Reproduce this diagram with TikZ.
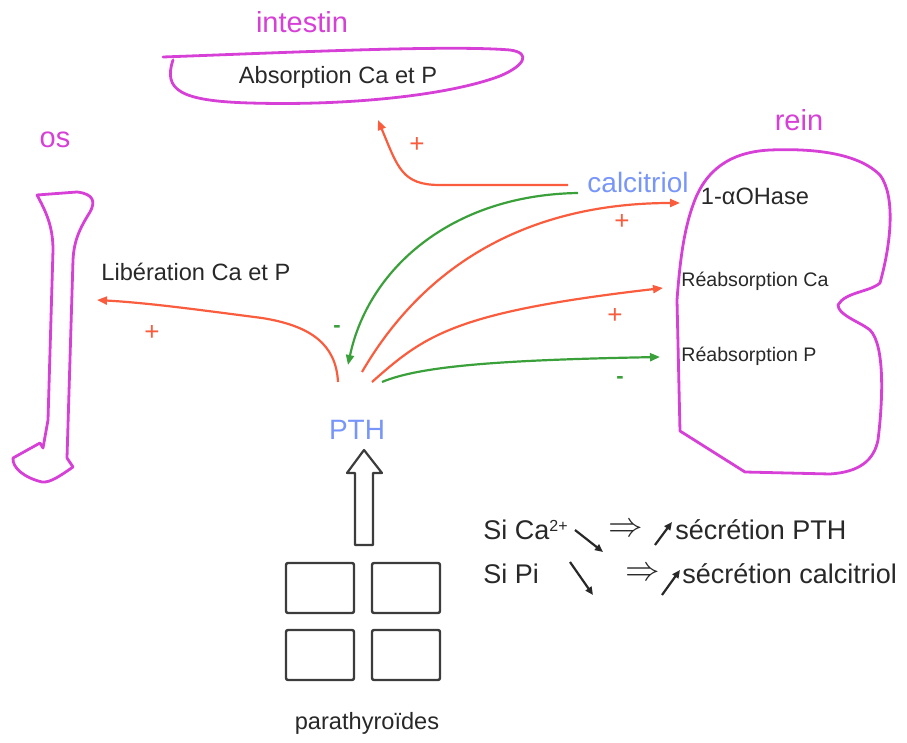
\documentclass[tikz,border=0pt]{standalone}
\usepackage{fontspec}
\setmainfont{Liberation Sans}
\usetikzlibrary{arrows.meta,positioning}
\definecolor{organc}{RGB}{214,64,214}
\definecolor{plusc}{RGB}{250,92,62}
\definecolor{minusc}{RGB}{58,160,58}
\definecolor{hormc}{RGB}{120,150,250}
\definecolor{textc}{RGB}{40,40,40}
\definecolor{boxc}{RGB}{60,60,60}

\begin{document}
\begin{tikzpicture}[x=0.5pt, y=-0.5pt,
            organ/.style={draw=organc, line width=1.4pt, line join=round, line cap=round},
            organlbl/.style={text=organc, inner sep=0pt, font=\fontsize{14.5}{16}\selectfont},
            hormone/.style={text=hormc, inner sep=0pt, font=\fontsize{14}{16}\selectfont},
            effect/.style={text=textc, inner sep=0pt, font=\fontsize{11.8}{13}\selectfont},
            small/.style={text=textc, inner sep=0pt, font=\fontsize{9.8}{11}\selectfont},
            rule/.style={text=textc, inner sep=0pt, anchor=west, font=\fontsize{13.5}{15}\selectfont},
            stim/.style={draw=plusc, line width=1.1pt, -{Triangle[length=5pt, width=4pt]}},
            inhib/.style={draw=minusc, line width=1.1pt, -{Triangle[length=5pt, width=4pt]}},
            plussign/.style={text=plusc, inner sep=0pt, font=\fontsize{13}{14}\selectfont},
            minussign/.style={text=minusc, inner sep=0pt, font=\bfseries\fontsize{11}{12}\selectfont},
            gland/.style={draw=boxc, line width=1.2pt, rounded corners=1pt, minimum width=34pt, minimum height=25pt, inner sep=0pt},
            trend/.style={draw=textc, line width=1.1pt, -{Triangle[length=4pt, width=3.5pt]}},
            implies/.style={text=textc, inner sep=0pt, anchor=west, font=\fontsize{16}{16}\selectfont}
        ]
            \useasboundingbox (0,0) rectangle (907,743);

            % organs
            \node[organlbl] (intestin) at (302,22) {intestin};
            \node[effect] (absorb) at (338,77) {Absorption Ca et P};
            \draw[organ] (163,57) .. controls (300,52) and (450,45) .. (510,50)
                .. controls (532,53) and (524,66) .. (500,76)
                .. controls (450,95) and (350,106) .. (250,103)
                .. controls (180,101) and (163,90) .. (173,60);

            \node[organlbl] (os) at (55,140) {os};
            \draw[organ] (37,195) -- (77,192) .. controls (95,194) and (95,203) .. (90,212)
                .. controls (80,228) and (74,240) .. (73,260)
                -- (67,458) -- (73,467)
                .. controls (60,476) and (50,483) .. (42,482)
                .. controls (25,478) and (12,468) .. (13,458)
                -- (40,443) -- (43,448) -- (48,420)
                -- (53,250) .. controls (53,225) and (45,210) .. (37,195);
            \node[effect, anchor=west] (liber) at (101,272) {Libération Ca et P};

            \node[organlbl] (rein) at (799,120) {rein};
            \draw[organ] (693,205) .. controls (705,170) and (730,152) .. (770,150)
                .. controls (820,148) and (860,155) .. (880,175)
                .. controls (895,195) and (892,240) .. (880,283)
                .. controls (870,292) and (845,292) .. (838,305)
                .. controls (838,315) and (860,322) .. (870,330)
                .. controls (885,345) and (883,400) .. (878,440)
                .. controls (874,460) and (860,472) .. (830,474)
                -- (745,472) -- (680,431) -- (677,300)
                .. controls (680,260) and (684,230) .. (693,205);
            \node[effect] (ohase) at (755,196) {1-αOHase};
            \node[small, anchor=west] (reabsca) at (681,281) {Réabsorption Ca};
            \node[small, anchor=west] (reabsp) at (681,356) {Réabsorption P};

            % hormones
            \node[hormone] (calcitriol) at (638,182) {calcitriol};
            \node[hormone] (pth) at (357,430) {PTH};

            \coordinate (calc-int) at (568,185);
            \coordinate (calc-pth) at (578,193);
            \coordinate (int-tip) at (378,120);
            \coordinate (pth-tip) at (348,365);
            \coordinate (pth-os) at (338,382);
            \coordinate (os-tip) at (97,300);
            \coordinate (pth-oh) at (362,372);
            \coordinate (oh-tip) at (680,203);
            \coordinate (pth-ca) at (372,382);
            \coordinate (ca-tip) at (663,288);
            \coordinate (pth-p) at (382,382);
            \coordinate (p-tip) at (660,357);

            \draw[stim] (calc-int) -- (440,185) .. controls (402,185) and (398,168) .. (int-tip);
            \draw[inhib] (calc-pth) .. controls (450,195) and (368,270) .. (pth-tip);
            \draw[stim] (pth-os) .. controls (336,345) and (312,326) .. (262,318)
                .. controls (200,310) and (150,303) .. (os-tip);
            \draw[stim] (pth-oh) .. controls (430,255) and (540,203) .. (oh-tip);
            \draw[stim] (pth-ca) .. controls (425,335) and (455,312) .. (ca-tip);
            \draw[inhib] (pth-p) .. controls (420,366) and (500,360) .. (p-tip);

            \node[plussign] (plus-int) at (417,145) {+};
            \node[plussign] (plus-os) at (152,333) {+};
            \node[plussign] (plus-oh) at (622,222) {+};
            \node[plussign] (plus-ca) at (615,316) {+};
            \node[minussign] (minus-pth) at (337,329) {-};
            \node[minussign] (minus-p) at (620,380) {-};

            % parathyroides
            \draw[draw=boxc, line width=1.1pt, line join=round]
                (355,545) -- (355,473) -- (347,473) -- (364,450) -- (382,473) -- (373,473) -- (373,545) -- cycle;
            \node[gland] (g1) at (320,588) {};
            \node[gland] (g2) at (406,588) {};
            \node[gland] (g3) at (320,655) {};
            \node[gland] (g4) at (406,655) {};
            \node[effect] (parathy) at (367,723) {parathyroïdes};

            % regulation
            \node[rule] (si-ca) at (483,530) {Si Ca\raisebox{0.55ex}{\fontsize{8}{9}\selectfont 2+}};
            \node[implies] (impl-ca) at (608,530) {$\Rightarrow$};
            \node[rule] (secr-pth) at (675,530) {sécrétion PTH};
            \node[rule] (si-pi) at (483,574) {Si Pi};
            \node[implies] (impl-pi) at (625,574) {$\Rightarrow$};
            \node[rule] (secr-calc) at (682,574) {sécrétion calcitriol};

            \coordinate (ca-d0) at (575,530);
            \coordinate (ca-d1) at (603,552);
            \coordinate (ca-u0) at (655,545);
            \coordinate (ca-u1) at (672,522);
            \coordinate (pi-d0) at (570,562);
            \coordinate (pi-d1) at (593,595);
            \coordinate (pi-u0) at (662,595);
            \coordinate (pi-u1) at (680,570);
            \draw[trend] (ca-d0) -- (ca-d1);
            \draw[trend] (ca-u0) -- (ca-u1);
            \draw[trend] (pi-d0) -- (pi-d1);
            \draw[trend] (pi-u0) -- (pi-u1);
        \end{tikzpicture}
\end{document}
